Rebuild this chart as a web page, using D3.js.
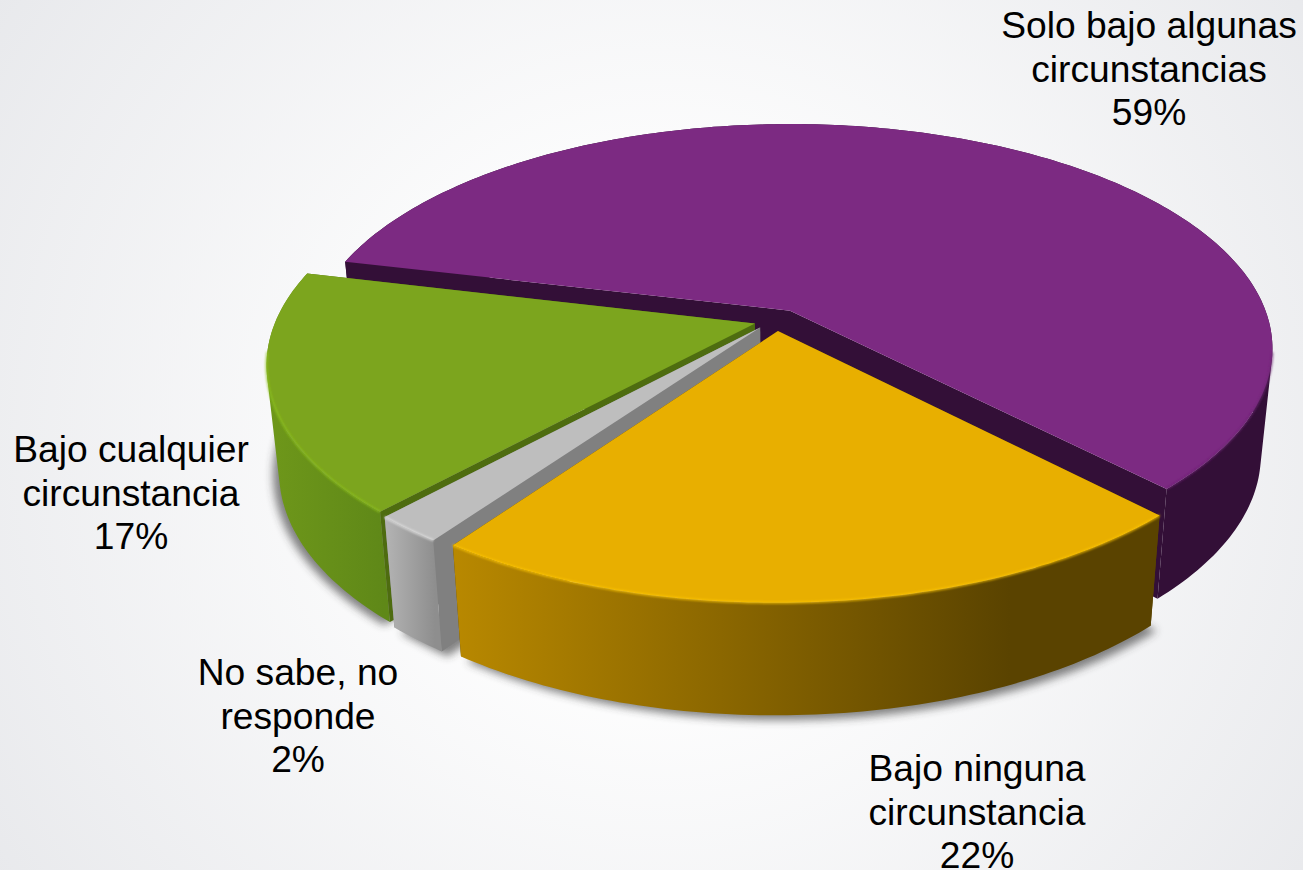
<!DOCTYPE html>
<html>
<head>
<meta charset="utf-8">
<style>
  html, body {margin: 0; padding: 0; background: #fff;}
  text {font-family: "Liberation Sans", Arial, sans-serif; font-size: 37.2px; fill: #000;}
</style>
<script src="https://d3js.org/d3.v7.min.js"></script>
</head>
<body>
<div id="graph"></div>
<script>

// values
const categories = ['Solo bajo algunas circunstancias', 'Bajo ninguna circunstancia', 'No sabe, no responde', 'Bajo cualquier circunstancia']
const values = [59, 22, 2, 17]
const labelLines = [
  ['Solo bajo algunas', 'circunstancias', '59%'],
  ['Bajo ninguna', 'circunstancia', '22%'],
  ['No sabe, no', 'responde', '2%'],
  ['Bajo cualquier', 'circunstancia', '17%']
]

const width = 1303
const height = 870

// slice looks, same order as categories
const topColors = ['#7c2a82', '#e8af00', '#bebebe', '#7ca51e']
const rimColors = ['#6c2472', '#ffc80a', '#e8e8e8', '#8fc31f']
const cutColors = ['#330f37', '#5c4400', '#808080', '#4e6c10']
const wallStops = [
  [[0, '#330f37'], [1, '#330f37']],
  [[0, '#b88800'], [1, '#5a4300']],
  [[0, '#b4b4b4'], [1, '#8e8e8e']],
  [[0, '#6e971a'], [1, '#5f8818']]
]
const wallSpan = [[1100, 1280], [455, 1010], [385, 435], [270, 385]]
// explode offsets in pie coordinates (radius = 1)
const explode = [[0, 0.006], [-0.025, -0.086], [-0.062, -0.07], [-0.073, -0.052]]
const labelX = [1149, 977, 298, 131]
const labelY = [38, 781, 685, 462]
const lineGap = 43.5
const drawOrder = [0, 3, 2, 1]

// perspective: pie plane centre at (790, 312), tilt makes the near rim bigger
const tilt = 0.169
const x = d3.scaleLinear().domain([-1, 1]).range([790 - 476, 790 + 476])
const y = d3.scaleLinear().domain([-1, 1]).range([312 + 218.6, 312 - 218.6])
const project = (u, v) => [x(u / (1 + tilt * v)), y(v / (1 + tilt * v))]
// lower face of the slab
const drop = p => [790 + (p[0] - 790) * 0.976, p[1] + 110 + (p[1] - 500) * 0.025]

const startAngle = -76.5 * Math.PI / 180
const pie = d3.pie().sort(null).startAngle(startAngle).endAngle(startAngle + 2 * Math.PI)
const arcs = pie(values)

const line = d3.line()
const closed = d3.line().curve(d3.curveLinearClosed)

function rimPoints(d, i) {
  const n = Math.ceil((d.endAngle - d.startAngle) * 60)
  return d3.range(n + 1).map(k => {
    const a = d.startAngle + (d.endAngle - d.startAngle) * k / n
    return project(Math.sin(a) + explode[i][0], Math.cos(a) + explode[i][1])
  })
}

// wall as one path of small quads, all wound the same way so the silhouette fills
function wallPath(rim) {
  return d3.pairs(rim).map(s => {
    const quad = [s[0], s[1], drop(s[1]), drop(s[0])]
    return closed(d3.polygonArea(quad) < 0 ? quad.reverse() : quad)
  }).join('')
}

const svg = d3.select('#graph').append('svg')
  .attr('width', width)
  .attr('height', height)
  .style('display', 'block')

const defs = svg.append('defs')

const bg = defs.append('radialGradient')
  .attr('id', 'bg')
  .attr('gradientUnits', 'userSpaceOnUse')
  .attr('cx', 660).attr('cy', 440).attr('r', 800)
bg.append('stop').attr('offset', 0.25).attr('stop-color', '#ffffff')
bg.append('stop').attr('offset', 1).attr('stop-color', '#e8e9ec')

defs.append('filter').attr('id', 'soft')
  .attr('x', '-10%').attr('y', '-10%').attr('width', '120%').attr('height', '120%')
  .append('feGaussianBlur').attr('stdDeviation', 4)
defs.append('filter').attr('id', 'rimblur')
  .attr('x', '-10%').attr('y', '-10%').attr('width', '120%').attr('height', '120%')
  .append('feGaussianBlur').attr('stdDeviation', 0.8)

wallStops.forEach((stops, i) => {
  const g = defs.append('linearGradient')
    .attr('id', 'wall' + i)
    .attr('gradientUnits', 'userSpaceOnUse')
    .attr('x1', wallSpan[i][0]).attr('y1', 0)
    .attr('x2', wallSpan[i][1]).attr('y2', 0)
  stops.forEach(s => g.append('stop').attr('offset', s[0]).attr('stop-color', s[1]))
})

svg.append('rect')
  .attr('width', width)
  .attr('height', height)
  .attr('fill', 'url(#bg)')

// soft shadow under the front slices
const shadow = svg.append('g')
  .attr('filter', 'url(#soft)')
  .attr('opacity', 0.6)
;[3, 2, 1].forEach(i => {
  const rim = rimPoints(arcs[i], i).map(drop)
  const ap = drop(project(explode[i][0], explode[i][1]))
  shadow.append('path')
    .attr('d', closed([ap].concat(rim)))
    .attr('transform', i === 3 ? 'translate(-6,3)' : 'translate(6,5)')
    .attr('fill', '#333')
})

const slices = svg.append('g')

drawOrder.forEach(i => {
  const d = arcs[i]
  const g = slices.append('g').attr('class', 'slice')
  const rim = rimPoints(d, i)
  const apex = project(explode[i][0], explode[i][1])
  const first = rim[0]
  const last = rim[rim.length - 1]

  // flat cut faces
  ;[first, last].forEach(p => {
    g.append('path')
      .attr('d', closed([apex, p, drop(p), drop(apex)]))
      .attr('fill', cutColors[i])
  })

  // curved outer wall
  g.append('path')
    .attr('d', wallPath(rim))
    .attr('fill', 'url(#wall' + i + ')')

  // top face
  g.append('path')
    .attr('d', closed([apex].concat(rim)))
    .attr('fill', topColors[i])

  // bevel highlight, only on the near part of the rim
  g.append('path')
    .attr('d', line(rim.filter(p => p[1] > 350)))
    .attr('fill', 'none')
    .attr('stroke', rimColors[i])
    .attr('stroke-width', 2)
    .attr('stroke-opacity', 0.8)
    .attr('filter', 'url(#rimblur)')
})

const labels = svg.append('g')
categories.forEach((c, i) => {
  const t = labels.append('text')
    .attr('text-anchor', 'middle')
    .attr('x', labelX[i])
    .attr('y', labelY[i])
  t.selectAll('tspan')
    .data(labelLines[i])
    .enter().append('tspan')
    .attr('x', labelX[i])
    .attr('dy', (l, k) => k === 0 ? 0 : lineGap)
    .text(l => l)
})

</script>
</body>
</html>
